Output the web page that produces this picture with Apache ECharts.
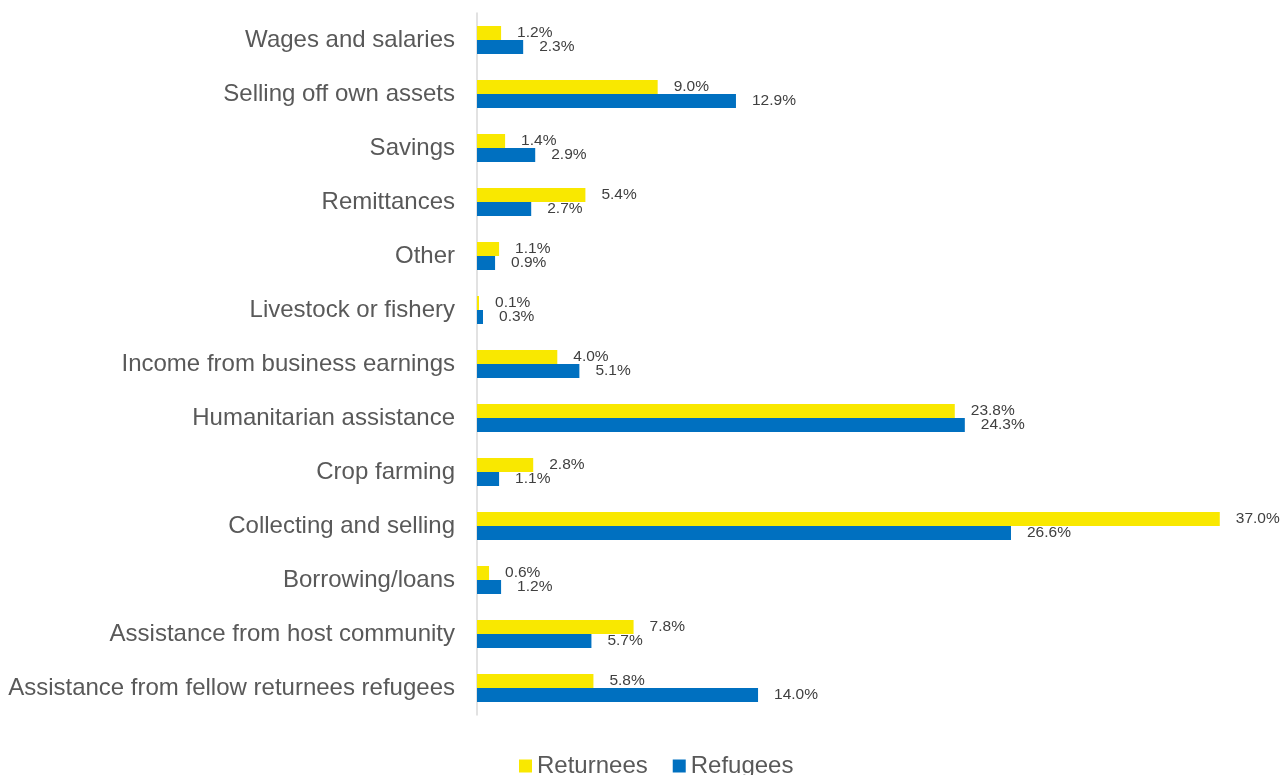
<!DOCTYPE html>
<html>
<head>
<meta charset="utf-8">
<script src="https://cdn.jsdelivr.net/npm/echarts@6/dist/echarts.min.js"></script>
<style>
  html, body { margin: 0; padding: 0; background: #ffffff; }
  #chart { width: 1283px; height: 775px; }
</style>
</head>
<body>
<div id="chart"></div>
<script>
// Sources of income, share of respondents (%)
const categories = [
  'Wages and salaries',
  'Selling off own assets',
  'Savings',
  'Remittances',
  'Other',
  'Livestock or fishery',
  'Income from business earnings',
  'Humanitarian assistance',
  'Crop farming',
  'Collecting and selling',
  'Borrowing/loans',
  'Assistance from host community',
  'Assistance from fellow returnees refugees'
];
const returnees = [1.2, 9.0, 1.4, 5.4, 1.1, 0.1, 4.0, 23.8, 2.8, 37.0, 0.6, 7.8, 5.8];
const refugees  = [2.3, 12.9, 2.9, 2.7, 0.9, 0.3, 5.1, 24.3, 1.1, 26.6, 1.2, 5.7, 14.0];
const seriesNames = ['Returnees', 'Refugees'];

const chart = echarts.init(document.getElementById('chart'), null, { renderer: 'canvas' });

const valueLabel = {
  show: true,
  position: 'right',
  distance: 16,
  color: '#404040',
  fontSize: 15.5,
  fontFamily: 'Liberation Sans, Arial, sans-serif',
  formatter: p => p.value.toFixed(1) + '%'
};

chart.setOption({
  animation: false,
  textStyle: { fontFamily: 'Liberation Sans, Arial, sans-serif' },
  grid: { left: 477, top: 13, width: 803, height: 702, containLabel: false },
  legend: {
    data: seriesNames,
    top: 749,
    left: 514,
    itemWidth: 13,
    itemHeight: 13,
    itemGap: 25,
    icon: 'rect',
    textStyle: { fontSize: 24, color: '#595959' }
  },
  xAxis: {
    type: 'value',
    min: 0,
    max: 40,
    show: false,
    splitLine: { show: false }
  },
  yAxis: {
    type: 'category',
    data: categories,
    inverse: true,
    axisLine: { show: true, lineStyle: { color: '#d9d9d9', width: 1.5 } },
    axisTick: { show: false },
    axisLabel: { color: '#595959', fontSize: 24, margin: 22 }
  },
  series: [
    {
      name: seriesNames[0],
      type: 'bar',
      data: returnees,
      barWidth: 14,
      barGap: '0%',
      itemStyle: { color: '#F9E800' },
      label: valueLabel
    },
    {
      name: seriesNames[1],
      type: 'bar',
      data: refugees,
      barWidth: 14,
      barGap: '0%',
      itemStyle: { color: '#0070C0' },
      label: valueLabel
    }
  ]
});
</script>
</body>
</html>
